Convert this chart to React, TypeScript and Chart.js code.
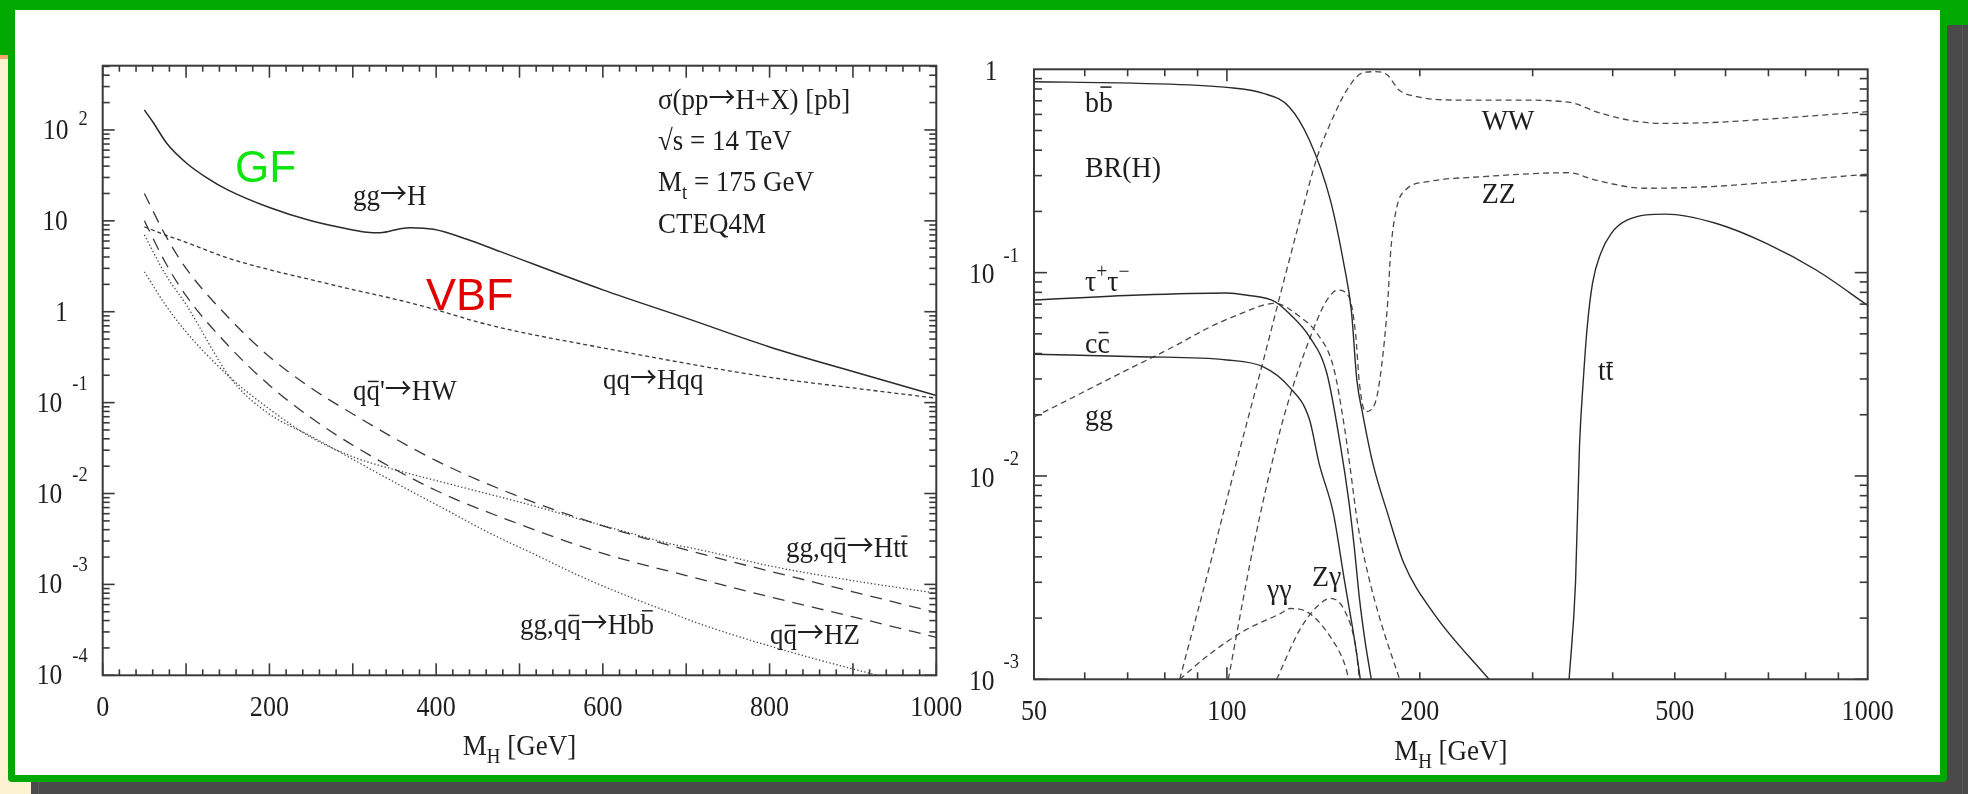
import React, { useEffect, useRef } from "react";
import { Chart, registerables } from "chart.js";

Chart.register(...registerables);

// ---------------- left panel: sigma(pp -> H+X) [pb], sqrt(s) = 14 TeV ----------------
const ggHMass = [50, 60, 77, 100, 125, 150, 200, 250, 300, 317, 333, 357, 369, 397, 437, 477, 600, 700, 800, 900, 1000];
const ggHXsec = [166, 123, 71, 43.6, 29.7, 21.9, 14.0, 10.0, 7.94, 7.5, 7.4, 8.2, 8.4, 8.07, 6.27, 4.58, 1.74, 0.85, 0.41, 0.22, 0.12];

const qqHMass = [50, 75, 100, 150, 200, 250, 300, 350, 400, 450, 500, 600, 700, 800, 900, 1000];
const qqHXsec = [8.6, 7.0, 5.8, 3.9, 2.9, 2.25, 1.75, 1.38, 1.05, 0.77, 0.6, 0.4, 0.27, 0.19, 0.145, 0.112];

const hwMass = [50, 75, 100, 150, 200, 250, 300, 400, 500, 600, 700, 800, 900, 1000];
const hwXsec = [20, 7.0, 3.0, 0.88, 0.32, 0.145, 0.075, 0.023, 0.0092, 0.0044, 0.0024, 0.0014, 0.00083, 0.00049];

const hzMass = [50, 75, 100, 150, 200, 250, 300, 400, 500, 600, 700, 800, 900, 1000];
const hzXsec = [10, 3.5, 1.5, 0.43, 0.155, 0.068, 0.034, 0.0108, 0.0046, 0.0022, 0.00125, 0.00073, 0.00044, 0.000262];

const httMass = [50, 75, 100, 150, 200, 252, 305, 359, 412, 466, 520, 573, 627, 681, 717, 800, 900, 1000];
const httXsec = [2.75, 1.2, 0.6, 0.2, 0.085, 0.0405, 0.0244, 0.0174, 0.013, 0.0097, 0.0072, 0.0052, 0.0038, 0.0028, 0.0024, 0.0016, 0.0011, 0.0008];

const hbbMass = [50, 75, 100, 155, 198, 252, 305, 359, 412, 466, 520, 573, 627, 681, 712, 800, 917, 1000];
const hbbXsec = [7.0, 2.6, 1.2, 0.178, 0.077, 0.0417, 0.0224, 0.012, 0.0066, 0.0036, 0.0021, 0.00123, 0.00076, 0.00049, 0.00038, 0.00021, 0.000107, 0.00007];

// axis ticks, left panel
const leftXMajor = [0, 100, 200, 300, 400, 500, 600, 700, 800, 900, 1000];
const leftXLabels = [0, 200, 400, 600, 800, 1000];
const leftYExponents = [-4, -3, -2, -1, 0, 1, 2];
const leftYMin = 1e-4;
const leftYMax = 509;

// ---------------- right panel: BR(H) ----------------
const bbMass = [50, 73, 100, 114, 125, 134.5, 145, 152.5, 156.4, 159.5, 162.8, 169, 178, 189, 210.5, 256.5];
const bbBR = [0.869, 0.853, 0.815, 0.762, 0.655, 0.449, 0.228, 0.107, 0.065, 0.0297, 0.0204, 0.0115, 0.0066, 0.0037, 0.0021, 0.001];

const tauMass = [50, 73, 100, 107, 119, 125, 134.5, 143.2, 150.5, 155, 158, 161, 164, 168];
const tauBR = [0.0733, 0.0776, 0.0794, 0.0776, 0.0719, 0.0631, 0.0484, 0.032, 0.0139, 0.0075, 0.0045, 0.0025, 0.0016, 0.001];

const ccMass = [50, 73, 100, 114, 125, 134.5, 139.3, 146.6, 152.5, 158.8, 161.5];
const ccBR = [0.0397, 0.0386, 0.0372, 0.0344, 0.0275, 0.019, 0.0115, 0.00655, 0.00308, 0.00145, 0.001];

const gluMass = [50, 56.4, 68.2, 82.6, 94.3, 107, 114, 118.7, 130, 138.3, 146.6, 152.5, 156, 160, 166, 174, 186];
const gluBR = [0.0195, 0.0236, 0.032, 0.0433, 0.0542, 0.0643, 0.0693, 0.0706, 0.0607, 0.0502, 0.0344, 0.0175, 0.0105, 0.0058, 0.0033, 0.0019, 0.001];

const aaMass = [84.4, 94.3, 107, 121.4, 125.5, 134.5, 145, 152.5, 155];
const aaBR = [0.001, 0.00134, 0.00175, 0.00211, 0.00223, 0.00211, 0.00162, 0.0012, 0.001];

const zaMass = [119.6, 129.9, 138.3, 145, 152.5, 158.8, 161];
const zaBR = [0.001, 0.00175, 0.00228, 0.0025, 0.00219, 0.00145, 0.001];

const wwMass = [84.4, 95, 100, 107, 114, 121.4, 129.9, 138.3, 146.6, 155, 162.7, 170, 178, 185.6, 198, 231.6, 282.7, 345, 376, 424, 477, 569, 726, 1000];
const wwBR = [0.001, 0.0041, 0.0077, 0.0174, 0.037, 0.08, 0.18, 0.37, 0.585, 0.82, 0.96, 0.973, 0.937, 0.79, 0.733, 0.706, 0.706, 0.685, 0.62, 0.562, 0.542, 0.547, 0.574, 0.619];

const zzMass = [100.5, 110, 120, 127, 138.3, 143.2, 148.9, 155, 158.8, 161, 164.5, 170.3, 174.3, 178.3, 180.2, 184.2, 190, 206, 249, 342, 376, 450, 569, 726, 1000];
const zzBR = [0.001, 0.0045, 0.015, 0.028, 0.0585, 0.0733, 0.082, 0.0762, 0.05, 0.0285, 0.0207, 0.0228, 0.0344, 0.0733, 0.129, 0.211, 0.255, 0.28, 0.296, 0.31, 0.285, 0.26, 0.265, 0.28, 0.305];

const ttMass = [342, 350, 355, 360, 365, 372, 383, 398, 421, 484, 579, 696, 831, 1000];
const ttBR = [0.001, 0.003, 0.014, 0.03, 0.054, 0.0885, 0.124, 0.156, 0.181, 0.194, 0.175, 0.139, 0.103, 0.069];

// axis ticks, right panel
const rightXMinor = [60, 70, 80, 90, 200, 300, 400, 500, 600, 700, 800, 900];
const rightXMajor = [100];
const rightXLabels = [50, 100, 200, 500, 1000];
const rightYExponents = [-3, -2, -1, 0];

// ---------------- drawing helpers ----------------
const SERIF = '"Liberation Serif", "DejaVu Serif", serif';
const SANS = '"Liberation Sans", Arial, sans-serif';
const ARROW_FONT = '"Noto Sans CJK SC", "DejaVu Sans", sans-serif';
const INK = "#1e1e1e";
const AXIS = "#3a3a3a";
const CANVAS_TOP = 10;
const CANVAS_H = 765;
const LEFT_X0 = 15;
const LEFT_W = 949;
const RIGHT_X0 = 964;
const RIGHT_W = 976;

type Seg = { t: string; sub?: boolean; sup?: boolean; bar?: number; family?: string; stretch?: number; lift?: number };
type TextOpts = { align?: "left" | "center" | "right"; color?: string; family?: string; sx?: number };

function rich(ctx: CanvasRenderingContext2D, segs: Seg[], x: number, y: number, size: number, o: TextOpts = {}) {
  const family = o.family ?? SERIF;
  const sx = o.sx ?? 0.93;
  const color = o.color ?? INK;
  ctx.save();
  const sizes = segs.map((s) => (s.sub || s.sup ? Math.round(size * 0.7) : size));
  const fonts = segs.map((s, i) => `${sizes[i]}px ${s.family ?? family}`);
  const scales = segs.map((s) => sx * (s.stretch ?? 1));
  const ws = segs.map((s, i) => {
    ctx.font = fonts[i];
    return ctx.measureText(s.t).width * scales[i];
  });
  const total = ws.reduce((a, b) => a + b, 0);
  let cx = o.align === "center" ? x - total / 2 : o.align === "right" ? x - total : x;
  ctx.fillStyle = color;
  ctx.strokeStyle = color;
  ctx.textBaseline = "alphabetic";
  ctx.textAlign = "left";
  segs.forEach((s, i) => {
    const dy = (s.sub ? size * 0.28 : s.sup ? -size * 0.42 : 0) - (s.lift ?? 0) * size;
    ctx.font = fonts[i];
    ctx.save();
    ctx.translate(cx, y + dy);
    ctx.scale(scales[i], 1);
    ctx.fillText(s.t, 0, 0);
    ctx.restore();
    if (s.bar) {
      ctx.lineWidth = Math.max(1, size * 0.05);
      ctx.beginPath();
      ctx.moveTo(cx + ws[i] * 0.1, y - s.bar * size);
      ctx.lineTo(cx + ws[i] * 0.9, y - s.bar * size);
      ctx.stroke();
    }
    cx += ws[i];
  });
  ctx.restore();
  return total;
}

// plain text; arrows are set in a font with a thin, full-width arrow glyph
function txt(s: string): Seg[] {
  const out: Seg[] = [];
  s.split("→").forEach((part, i) => {
    if (i > 0) out.push({ t: "→", family: ARROW_FONT, stretch: 1.0, lift: 0.04 });
    if (part) out.push({ t: part });
  });
  return out;
}

function pairs(xs: number[], ys: number[]) {
  return xs.map((x, i) => ({ x, y: ys[i] }));
}

function line(label: string, xs: number[], ys: number[], style: { dash?: number[]; color?: string; width?: number }) {
  return {
    label,
    data: pairs(xs, ys),
    borderColor: style.color ?? "#2c2c2c",
    borderWidth: style.width ?? 1.3,
    borderDash: style.dash ?? [],
    pointRadius: 0,
    pointHoverRadius: 0,
    fill: false,
    cubicInterpolationMode: "monotone" as const,
  };
}

function minorLogTicks(lo: number, hi: number, min: number, max: number) {
  const out: number[] = [];
  for (let e = lo; e <= hi; e++) {
    for (let m = 2; m <= 9; m++) {
      const v = m * Math.pow(10, e);
      if (v > min && v < max) out.push(v);
    }
  }
  return out;
}

function strokeSeg(ctx: CanvasRenderingContext2D, x1: number, y1: number, x2: number, y2: number) {
  ctx.beginPath();
  ctx.moveTo(x1, y1);
  ctx.lineTo(x2, y2);
  ctx.stroke();
}

type TickSet = { v: number; len: number }[];

function drawFrame(chart: any, xTicks: TickSet, yTicks: TickSet) {
  const { ctx, chartArea: a, scales } = chart;
  ctx.save();
  ctx.strokeStyle = AXIS;
  ctx.lineWidth = 1.6;
  for (const t of xTicks) {
    const px = scales.x.getPixelForValue(t.v);
    strokeSeg(ctx, px, a.bottom, px, a.bottom - t.len);
    strokeSeg(ctx, px, a.top, px, a.top + t.len);
  }
  for (const t of yTicks) {
    const py = scales.y.getPixelForValue(t.v);
    strokeSeg(ctx, a.left, py, a.left + t.len, py);
    strokeSeg(ctx, a.right, py, a.right - t.len, py);
  }
  ctx.lineWidth = 2;
  ctx.strokeRect(a.left, a.top, a.right - a.left, a.bottom - a.top);
  ctx.restore();
}

// ---------------- chart configurations ----------------
function leftConfig(): any {
  const dotted = { dash: [1.4, 2.2], color: "#4a4a4a", width: 1.3 };
  const longDash = { dash: [12, 8], color: "#3a3a3a", width: 1.3 };
  const xTicks: TickSet = [];
  for (let v = 0; v <= 1000; v += 20) xTicks.push({ v, len: leftXMajor.includes(v) ? 12 : 6 });
  const yTicks: TickSet = leftYExponents.map((e) => ({ v: Math.pow(10, e), len: 12 }));
  minorLogTicks(-4, 2, leftYMin, leftYMax).forEach((v) => yTicks.push({ v, len: 7 }));

  const labels = {
    id: "leftLabels",
    afterDraw(chart: any) {
      const { ctx, chartArea: a, scales } = chart;
      const ox = LEFT_X0;
      const oy = CANVAS_TOP;
      for (const e of leftYExponents) {
        const py = scales.y.getPixelForValue(Math.pow(10, e));
        if (e === 0 || e === 1) {
          rich(ctx, txt(e === 0 ? "1" : "10"), a.left - 35, py + 9, 29, { align: "right", sx: 0.88 });
        } else {
          const w = rich(ctx, txt(String(e)), a.left - 15, py + (e > 0 ? -5 : -13), 21, { align: "right", sx: 0.88 });
          rich(ctx, txt("10"), a.left - 15 - w - 10, py + 9, 29, { align: "right", sx: 0.88 });
        }
      }
      for (const v of leftXLabels) {
        rich(ctx, txt(String(v)), scales.x.getPixelForValue(v), 716 - oy, 29, { align: "center", sx: 0.9 });
      }
      rich(ctx, [{ t: "M" }, { t: "H", sub: true }, { t: " [GeV]" }], (a.left + a.right) / 2, 755 - oy, 30, { align: "center", sx: 0.9 });

      // process labels
      const fs = 29;
      rich(ctx, txt("gg→H"), 353 - ox, 205 - oy, fs);
      rich(ctx, txt("qq→Hqq"), 603 - ox, 389 - oy, fs);
      rich(ctx, [{ t: "q" }, { t: "q", bar: 0.64 }, ...txt("'→HW")], 353 - ox, 400 - oy, fs);
      rich(ctx, [...txt("gg,q"), { t: "q", bar: 0.64 }, ...txt("→Ht"), { t: "t", bar: 0.72 }], 786 - ox, 557 - oy, fs);
      rich(ctx, [{ t: "q" }, { t: "q", bar: 0.64 }, ...txt("→HZ")], 770 - ox, 644 - oy, fs);
      rich(ctx, [...txt("gg,q"), { t: "q", bar: 0.64 }, ...txt("→Hb"), { t: "b", bar: 0.8 }], 520 - ox, 634 - oy, fs);

      // header block
      rich(ctx, txt("σ(pp→H+X) [pb]"), 658 - ox, 109 - oy, fs);
      rich(ctx, txt("√s = 14 TeV"), 658 - ox, 150 - oy, fs);
      rich(ctx, [{ t: "M" }, { t: "t", sub: true }, { t: " = 175 GeV" }], 658 - ox, 191 - oy, fs);
      rich(ctx, txt("CTEQ4M"), 658 - ox, 233 - oy, fs);

      // production-mode tags
      rich(ctx, txt("GF"), 235 - ox, 182 - oy, 44, { family: SANS, color: "#0ee40e", sx: 1 });
      rich(ctx, txt("VBF"), 426 - ox, 310 - oy, 45, { family: SANS, color: "#e00000", sx: 1 });
    },
  };

  return {
    type: "line",
    data: {
      datasets: [
        line("gg→H", ggHMass, ggHXsec, { color: "#2a2a2a", width: 1.5 }),
        line("qq→Hqq", qqHMass, qqHXsec, { dash: [4, 3], color: "#3a3a3a", width: 1.3 }),
        line("qq̄'→HW", hwMass, hwXsec, longDash),
        line("qq̄→HZ", hzMass, hzXsec, longDash),
        line("gg,qq̄→Htt̄", httMass, httXsec, dotted),
        line("gg,qq̄→Hbb̄", hbbMass, hbbXsec, dotted),
      ],
    },
    options: {
      responsive: false,
      animation: false,
      devicePixelRatio: 1,
      layout: { padding: { left: 102.7 - LEFT_X0, right: LEFT_X0 + LEFT_W - 936.3, top: 65.7 - CANVAS_TOP, bottom: CANVAS_TOP + CANVAS_H - 675.3 } },
      plugins: { legend: { display: false }, tooltip: { enabled: false }, title: { display: false } },
      events: [],
      scales: {
        x: { type: "linear", min: 0, max: 1000, display: false },
        y: { type: "logarithmic", min: leftYMin, max: leftYMax, display: false },
      },
    },
    plugins: [
      { id: "leftFrame", afterDatasetsDraw: (chart: any) => drawFrame(chart, xTicks, yTicks) },
      labels,
    ],
  };
}

function rightConfig(): any {
  const dashed = { dash: [6, 4], color: "#4a4a4a", width: 1.3 };
  const solid = { color: "#2a2a2a", width: 1.4 };
  const xTicks: TickSet = rightXMinor.map((v) => ({ v, len: 7 })).concat(rightXMajor.map((v) => ({ v, len: 12 })));
  const yTicks: TickSet = rightYExponents.filter((e) => e < 0).map((e) => ({ v: Math.pow(10, e), len: 13 }));
  minorLogTicks(-3, -1, 1e-3, 1).forEach((v) => yTicks.push({ v, len: 8 }));

  const labels = {
    id: "rightLabels",
    afterDraw(chart: any) {
      const { ctx, chartArea: a, scales } = chart;
      const ox = RIGHT_X0;
      const oy = CANVAS_TOP;
      for (const e of rightYExponents) {
        const py = scales.y.getPixelForValue(Math.pow(10, e));
        if (e === 0) {
          rich(ctx, txt("1"), a.left - 36.5, py + 10.7, 29, { align: "right", sx: 0.88 });
        } else {
          const w = rich(ctx, txt(String(e)), a.left - 15, py - 11, 21, { align: "right", sx: 0.88 });
          rich(ctx, txt("10"), a.left - 15 - w - 9, py + 10.7, 29, { align: "right", sx: 0.88 });
        }
      }
      for (const v of rightXLabels) {
        rich(ctx, txt(String(v)), scales.x.getPixelForValue(v), 720 - oy, 29, { align: "center", sx: 0.9 });
      }
      rich(ctx, [{ t: "M" }, { t: "H", sub: true }, { t: " [GeV]" }], (a.left + a.right) / 2, 760 - oy, 30, { align: "center", sx: 0.9 });

      const fs = 30;
      rich(ctx, [{ t: "b" }, { t: "b", bar: 0.82 }], 1085 - ox, 111.7 - oy, fs);
      rich(ctx, txt("BR(H)"), 1085 - ox, 177 - oy, fs);
      rich(ctx, [{ t: "τ" }, { t: "+", sup: true }, { t: "τ" }, { t: "−", sup: true }], 1085 - ox, 291 - oy, fs);
      rich(ctx, [{ t: "c" }, { t: "c", bar: 0.68 }], 1085 - ox, 353 - oy, fs);
      rich(ctx, txt("gg"), 1085 - ox, 425 - oy, fs);
      rich(ctx, txt("γγ"), 1267 - ox, 599 - oy, fs);
      rich(ctx, txt("Zγ"), 1312 - ox, 586 - oy, fs);
      rich(ctx, txt("WW"), 1481.7 - ox, 130 - oy, fs);
      rich(ctx, txt("ZZ"), 1481.7 - ox, 203 - oy, fs);
      rich(ctx, [{ t: "t" }, { t: "t", bar: 0.58 }], 1598 - ox, 380 - oy, fs);
    },
  };

  return {
    type: "line",
    data: {
      datasets: [
        line("bb̄", bbMass, bbBR, solid),
        line("τ+τ−", tauMass, tauBR, solid),
        line("cc̄", ccMass, ccBR, solid),
        line("tt̄", ttMass, ttBR, solid),
        line("gg", gluMass, gluBR, dashed),
        line("γγ", aaMass, aaBR, dashed),
        line("Zγ", zaMass, zaBR, dashed),
        line("WW", wwMass, wwBR, dashed),
        line("ZZ", zzMass, zzBR, dashed),
      ],
    },
    options: {
      responsive: false,
      animation: false,
      devicePixelRatio: 1,
      layout: { padding: { left: 1034 - RIGHT_X0, right: RIGHT_X0 + RIGHT_W - 1867.7, top: 69.3 - CANVAS_TOP, bottom: CANVAS_TOP + CANVAS_H - 679.3 } },
      plugins: { legend: { display: false }, tooltip: { enabled: false }, title: { display: false } },
      events: [],
      scales: {
        x: { type: "logarithmic", min: 50, max: 1000, display: false },
        y: { type: "logarithmic", min: 1e-3, max: 1, display: false },
      },
    },
    plugins: [
      { id: "rightFrame", afterDatasetsDraw: (chart: any) => drawFrame(chart, xTicks, yTicks) },
      labels,
    ],
  };
}

function Panel({ left, width, build }: { left: number; width: number; build: () => any }) {
  const ref = useRef<HTMLCanvasElement>(null);
  useEffect(() => {
    const chart = new Chart(ref.current as HTMLCanvasElement, build());
    return () => chart.destroy();
  }, []);
  return (
    <canvas
      ref={ref}
      width={width}
      height={CANVAS_H}
      style={{ position: "absolute", left, top: CANVAS_TOP, width, height: CANVAS_H, display: "block" }}
    />
  );
}

const box = (l: number, t: number, w: number, h: number, bg: string, extra: React.CSSProperties = {}): React.CSSProperties => ({
  position: "absolute",
  left: l,
  top: t,
  width: w,
  height: h,
  background: bg,
  ...extra,
});

export default function App() {
  const green = "#00a900";
  return (
    <div style={box(0, 0, 1968, 794, "#fdf2d2", { overflow: "hidden" })}>
      <div style={box(31, 25, 1937, 769, "#4a4a4a")} />
      <div style={box(38, 782, 1, 12, "#5c5c5c")} />
      <div style={box(1962, 25, 1, 769, "#5a5a5a")} />
      <div style={box(0, 0, 1968, 10, green)} />
      <div style={box(0, 0, 15, 55, green)} />
      <div style={box(0, 55, 8, 4, "#f4a86e")} />
      <div style={box(1940, 0, 28, 25, green)} />
      <div style={box(8, 0, 1939, 782, green, { borderRadius: "0 0 4px 4px" })} />
      <div style={box(15, 10, 1925, 765, "#ffffff")} />
      <Panel left={LEFT_X0} width={LEFT_W} build={leftConfig} />
      <Panel left={RIGHT_X0} width={RIGHT_W} build={rightConfig} />
    </div>
  );
}
